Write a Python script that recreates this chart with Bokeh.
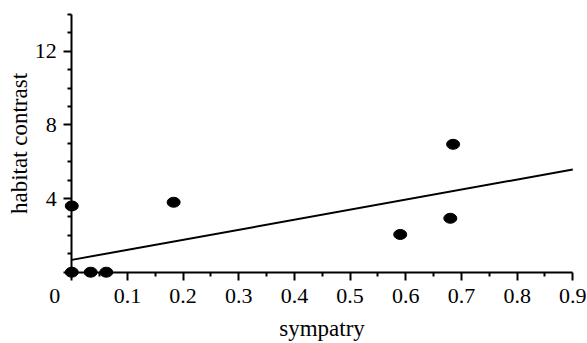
from bokeh.plotting import figure
from bokeh.models import FixedTicker, Range1d, ColumnDataSource
from bokeh.embed import file_html
from bokeh.resources import INLINE

# data
sympatry = [0.0, 0.0, 0.034, 0.062, 0.183, 0.59, 0.68, 0.685]
habitat_contrast = [3.6, 0.0, 0.0, 0.0, 3.8, 2.05, 2.93, 6.95]
fit_x = [0.0, 0.9]
fit_y = [0.67, 5.58]
x_ticks = [0.0, 0.1, 0.2, 0.3, 0.4, 0.5, 0.6, 0.7, 0.8, 0.9]
x_minor = [0.05, 0.15, 0.25, 0.35, 0.45, 0.55, 0.65, 0.75, 0.85]
y_ticks = [0, 4, 8, 12]
y_minor = [1, 2, 3, 5, 6, 7, 9, 10, 11, 13, 14]

FONT = "Liberation Serif"
TICK_FS = "22px"
TITLE_FS = "23px"

# the frame spans the whole page; axes are pinned at 0 so marks on them are not cut
p = figure(width=587, height=343, output_backend="svg", toolbar_location=None,
           x_range=Range1d(-0.128, 0.9264), y_range=Range1d(-3.875, 14.766),
           min_border_left=0, min_border_right=0, min_border_top=0, min_border_bottom=0)
p.title.visible = False
p.outline_line_color = None
p.grid.visible = False
p.background_fill_color = "white"
p.border_fill_color = "white"

src = ColumnDataSource(dict(x=sympatry, y=habitat_contrast))
p.line(fit_x, fit_y, line_color="black", line_width=2)
p.ellipse(x="x", y="y", width=13, height=10, width_units="screen", height_units="screen",
          source=src, fill_color="black", line_color="black", level="overlay")

for ax in (p.xaxis[0], p.yaxis[0]):
    ax.fixed_location = 0
    ax.axis_line_width = 2
    ax.axis_line_color = "black"
    ax.major_tick_line_width = 2
    ax.minor_tick_line_width = 2
    ax.major_tick_line_color = "black"
    ax.minor_tick_line_color = "black"
    ax.major_tick_out = 8
    ax.major_tick_in = 0
    ax.minor_tick_out = 4
    ax.minor_tick_in = 0
    ax.major_label_text_font = FONT
    ax.major_label_text_font_size = TICK_FS
    ax.major_label_text_color = "black"
    ax.axis_label_text_font = FONT
    ax.axis_label_text_font_size = TITLE_FS
    ax.axis_label_text_font_style = "normal"
    ax.axis_label_text_color = "black"

p.xaxis.bounds = (0, 0.9)
p.yaxis.bounds = (0, 14)
p.xaxis.ticker = FixedTicker(ticks=x_ticks, minor_ticks=x_minor)
p.yaxis.ticker = FixedTicker(ticks=y_ticks, minor_ticks=y_minor)
p.xaxis.major_label_overrides = {0: ""}
p.yaxis.major_label_overrides = {0: ""}
p.xaxis.major_label_standoff = 9
p.yaxis.major_label_standoff = 7
p.xaxis.axis_label = "sympatry"
p.yaxis.axis_label = "habitat contrast"
p.xaxis.axis_label_standoff = 9
p.yaxis.axis_label_standoff = 0

# corner "0" label of the x axis, set left of the origin as in the original
p.text(x=[x_ticks[0]], y=[y_ticks[0]], text=["0"], x_offset=-17, y_offset=17,
       text_align="center", text_baseline="top", text_font=FONT,
       text_font_size=TICK_FS, text_color="black")

open("out.html", "w").write(file_html(p, INLINE))
